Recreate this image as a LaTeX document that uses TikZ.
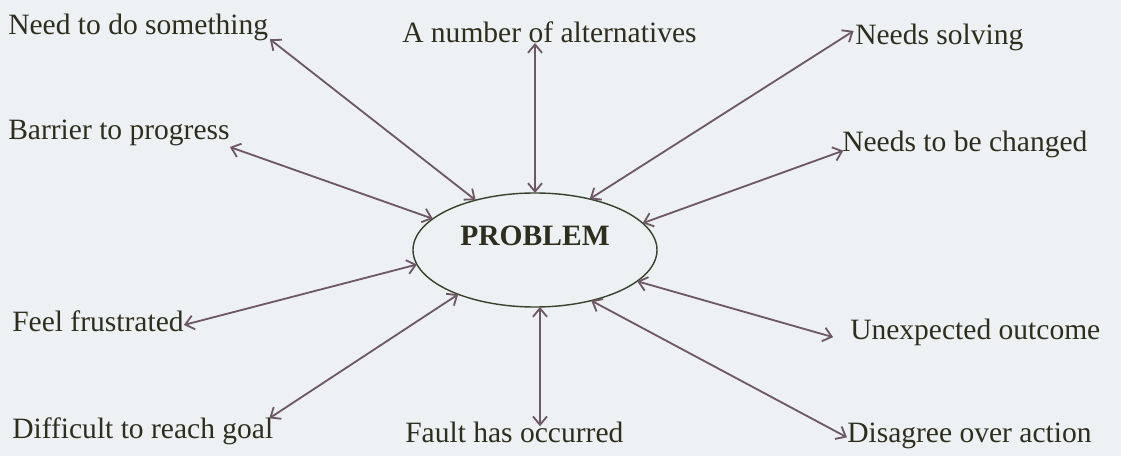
\documentclass[tikz,border=0pt]{standalone}
\usepackage{fontspec}
\setmainfont{Liberation Serif}
\usetikzlibrary{shapes.geometric, arrows.meta, positioning, calc}
\definecolor{paper}{HTML}{EEF1F4}
\definecolor{ink}{HTML}{2E2E1E}
\definecolor{arrowink}{HTML}{6E5864}
\definecolor{rimink}{HTML}{36422A}

\begin{document}
\begin{tikzpicture}[
    hub/.style={
        ellipse,
        draw=rimink,
        line width=1pt,
        minimum width=6.1cm,
        minimum height=2.85cm,
        inner sep=0pt,
        outer sep=0pt
    },
    txt/.style={font=\fontsize{21}{25}\selectfont, text=ink, inner sep=0pt, anchor=base west},
    link/.style={draw=arrowink, line width=1.3pt, <->, >={Straight Barb[length=6pt,width=10pt]}}
]

\fill[paper] (0,0) rectangle (28.025,11.4);
\useasboundingbox (0,0) rectangle (28.025,11.4);

\node[hub] (problem) at (13.375,5.15) {};
\node[txt, anchor=center, font=\fontsize{21}{25}\selectfont\bfseries] (problemtext) at ([yshift=0.35cm]problem.center) {PROBLEM};

\node[txt] (need) at (0.2,10.525) {Need to do something};
\node[txt] (anum) at (10.05,10.325) {A number of alternatives};
\node[txt] (solving) at (21.375,10.275) {Needs solving};
\node[txt] (barrier) at (0.2,7.9) {Barrier to progress};
\node[txt] (changed) at (21.05,7.6) {Needs to be changed};
\node[txt] (frustrated) at (0.3,3.1) {Feel frustrated};
\node[txt] (unexpected) at (21.25,2.9) {Unexpected outcome};
\node[txt] (difficult) at (0.3,0.45) {Difficult to reach goal};
\node[txt] (fault) at (10.125,0.325) {Fault has occurred};
\node[txt] (disagree) at (21.175,0.325) {Disagree over action};

\draw[link] (problem.140) -- ([xshift=1pt,yshift=-3pt]need.base east);
\draw[link] (problem.north) -- (problem.north |- anum.base);
\draw[link] (problem.43) -- ([xshift=-1pt,yshift=10pt]solving.base west);
\draw[link] (problem.163) -- ([yshift=-5pt]barrier.base east);
\draw[link] (problem.14) -- ([xshift=1pt,yshift=1pt]changed.base west);
\draw[link] (problem.187) -- ([yshift=5pt]frustrated.base east);
\draw[link] (problem.343) -- ([xshift=-12pt,yshift=2pt]unexpected.base west);
\draw[link] (problem.210) -- ([xshift=-3pt,yshift=14pt]difficult.base east);
\draw[link] (problem.275) -- ($(problem.275 |- fault.north)+(0,-0.1)$);
\draw[link] (problem.318) -- ([yshift=4pt]disagree.base west);

\end{tikzpicture}
\end{document}
